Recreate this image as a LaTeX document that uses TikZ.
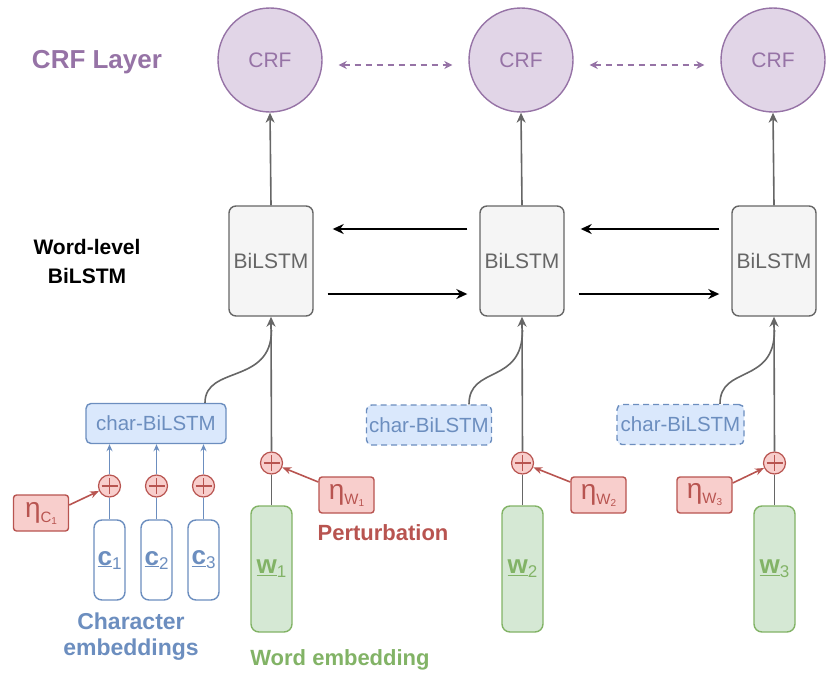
\documentclass[tikz,border=0pt]{standalone}
\usepackage{fontspec}
\setmainfont{Liberation Sans}
\usetikzlibrary{arrows.meta}
\definecolor{pfill}{HTML}{E1D5E7}\definecolor{pdraw}{HTML}{9673A6}
\definecolor{gfill}{HTML}{F5F5F5}\definecolor{gdraw}{HTML}{666666}
\definecolor{bfill}{HTML}{DAE8FC}\definecolor{bdraw}{HTML}{6C8EBF}
\definecolor{rfill}{HTML}{F8CECC}\definecolor{rdraw}{HTML}{B85450}
\definecolor{nfill}{HTML}{D5E8D4}\definecolor{ndraw}{HTML}{82B366}
\newcommand{\fsz}[1]{\fontsize{#1}{#1}\selectfont}
\tikzset{
  crf/.style={circle,minimum size=104pt,inner sep=0pt,fill=pfill,draw=pdraw,line width=1.4pt,text=pdraw,font=\fsz{21}},
  bil/.style={rectangle,rounded corners=7pt,minimum width=84pt,minimum height=110pt,fill=gfill,draw=gdraw,line width=1.4pt,text=gdraw,font=\fsz{21}},
  chr/.style={rectangle,rounded corners=5pt,minimum height=40pt,inner sep=0pt,fill=bfill,draw=bdraw,line width=1.4pt,text=bdraw,font=\fsz{20.5}},
  chrd/.style={chr,dashed,dash pattern=on 6pt off 4pt},
  cbox/.style={rectangle,rounded corners=8pt,minimum width=31pt,minimum height=80pt,inner sep=0pt,draw=bdraw,fill=white,line width=1.4pt,text=bdraw},
  wbox/.style={rectangle,rounded corners=8pt,minimum width=41pt,minimum height=126pt,inner sep=0pt,draw=ndraw,fill=nfill,line width=1.4pt,text=ndraw},
  ebox/.style={rectangle,rounded corners=3pt,minimum width=55pt,minimum height=36pt,inner sep=0pt,draw=rdraw,fill=rfill,line width=1.4pt,text=rdraw},
  plus/.style={circle,minimum size=22pt,inner sep=0pt,draw=rdraw,fill=rfill,line width=1.2pt,
    path picture={\draw[rdraw,line width=1.2pt] (path picture bounding box.center) ++(-8,0) -- ++(16,0);
                  \draw[rdraw,line width=1.2pt] (path picture bounding box.center) ++(0,-8) -- ++(0,16);}},
  gline/.style={draw=gdraw,line width=1.6pt},
  garr/.style={gline,-{Stealth[length=10pt,width=9pt]}},
  barr/.style={draw=bdraw,line width=1.6pt,-{Stealth[length=7pt,width=6pt]}},
  rarr/.style={draw=rdraw,line width=1.6pt,-{Stealth[length=9pt,width=7pt]}},
  karr/.style={draw=black,line width=1.9pt,-{Stealth[length=11pt,width=10pt]}},
  parr/.style={draw=pdraw,line width=1.5pt,dash pattern=on 6pt off 5pt,{Stealth[length=8pt,width=8pt]}-{Stealth[length=8pt,width=8pt]}},
  lbl/.style={font=\fsz{22}\bfseries,align=center}
}
\newcommand{\wlab}[1]{\fsz{26}\underline{\textbf{w}}\raisebox{-4pt}{\fsz{17}#1}}
\newcommand{\clab}[1]{\fsz{26}\underline{\textbf{c}}\raisebox{-4pt}{\fsz{17}#1}}
\newcommand{\elab}[2]{\fsz{28}η\raisebox{-5pt}{\fsz{15}#1\raisebox{-2pt}{\fsz{10}#2}}}
\begin{document}
\begin{tikzpicture}[x=1pt,y=-1pt]
\useasboundingbox (0,0) rectangle (827,672);
% CRF layer
\node[crf] (crf1) at (270,60) {CRF};
\node[crf] (crf2) at (521,60) {CRF};
\node[crf] (crf3) at (773,60) {CRF};
\node[lbl,font=\fsz{26}\bfseries,text=pdraw] (lcrf) at (97,62) {CRF Layer};
\draw[parr,shorten <=16pt,shorten >=16pt] ([yshift=-5pt]crf1.east) -- ([yshift=-5pt]crf2.west);
\draw[parr,shorten <=16pt,shorten >=16pt] ([yshift=-5pt]crf2.east) -- ([yshift=-5pt]crf3.west);
% BiLSTM
\node[bil] (b1) at (271,261) {BiLSTM};
\node[bil] (b2) at (522,261) {BiLSTM};
\node[bil] (b3) at (774,261) {BiLSTM};
\node[lbl,font=\fsz{21}\bfseries,text=black] (lwl) at (87,261) {Word-level\\[8pt]BiLSTM};
\draw[karr,shorten <=12pt,shorten >=19pt] ([yshift=32pt]b2.west) -- ([yshift=32pt]b1.east);
\draw[karr,shorten <=14pt,shorten >=12pt] ([yshift=-33pt]b1.east) -- ([yshift=-33pt]b2.west);
\draw[karr,shorten <=12pt,shorten >=16pt] ([yshift=32pt]b3.west) -- ([yshift=32pt]b2.east);
\draw[karr,shorten <=14pt,shorten >=12pt] ([yshift=-33pt]b2.east) -- ([yshift=-33pt]b3.west);
\draw[garr] (b1.north) -- (crf1.south);
\draw[garr] (b2.north) -- (crf2.south);
\draw[garr] (b3.north) -- (crf3.south);
% char-BiLSTM
\node[chr,minimum width=140pt] (ch1) at (156,423.5) {char-BiLSTM};
\node[chrd,minimum width=125pt] (ch2) at (429,425) {char-BiLSTM};
\node[chrd,minimum width=127pt] (ch3) at (680.5,424.5) {char-BiLSTM};
% word embeddings and perturbations
\node[wbox] (w1) at (271.5,569) {\wlab{1}};
\node[wbox] (w2) at (522.5,569) {\wlab{2}};
\node[wbox] (w3) at (774.5,569) {\wlab{3}};
\node[plus] (pw1) at (271.5,463) {};
\node[plus] (pw2) at (522.5,463) {};
\node[plus] (pw3) at (774.5,463) {};
\node[ebox] (ew1) at (346.5,495) {\elab{W}{1}};
\node[ebox] (ew2) at (598.5,495) {\elab{W}{2}};
\node[ebox] (ew3) at (704.5,495) {\elab{W}{3}};
\draw[gline] (w1.north) -- (pw1.south);
\draw[gline] (w2.north) -- (pw2.south);
\draw[gline] (w3.north) -- (pw3.south);
\draw[garr] (pw1.north) -- (b1.south);
\draw[garr] (pw2.north) -- (b2.south);
\draw[garr] (pw3.north) -- (b3.south);
\coordinate (j1) at (271.5,330);
\coordinate (j2) at (522.5,330);
\coordinate (j3) at (774.5,330);
\draw[gline] (ch1.north -| 205,0) .. controls (205,365) and (271.5,385) .. (j1);
\draw[gline] (ch2.north -| 469,0) .. controls (469,365) and (522.5,385) .. (j2);
\draw[gline] (ch3.north -| 720,0) .. controls (720,365) and (774.5,385) .. (j3);
\draw[rarr] ([yshift=13pt]ew1.west) -- (pw1);
\draw[rarr] ([yshift=13pt]ew2.west) -- (pw2);
\draw[rarr] ([yshift=12pt]ew3.east) -- (pw3);
% character embeddings
\node[cbox] (c1) at (109.5,560) {\clab{1}};
\node[cbox] (c2) at (156.5,560) {\clab{2}};
\node[cbox] (c3) at (203.5,560) {\clab{3}};
\node[plus] (pc1) at (109.5,486) {};
\node[plus] (pc2) at (156.5,486) {};
\node[plus] (pc3) at (203.5,486) {};
\draw[draw=bdraw,line width=1.6pt] (c1.north) -- (pc1.south);
\draw[draw=bdraw,line width=1.6pt] (c2.north) -- (pc2.south);
\draw[draw=bdraw,line width=1.6pt] (c3.north) -- (pc3.south);
\draw[barr] (pc1.north) -- (pc1.north |- ch1.south);
\draw[barr] (pc2.north) -- (pc2.north |- ch1.south);
\draw[barr] (pc3.north) -- (pc3.north |- ch1.south);
\node[ebox] (ec1) at (41,513) {\elab{C}{1}};
\draw[rarr] ([yshift=8pt]ec1.east) -- (pc1);
% labels
\node[lbl,text=rdraw] (lpert) at (383,533) {Perturbation};
\node[lbl,text=ndraw] (lword) at (340,660) {Word embedding};
\node[lbl,font=\fsz{23}\bfseries,text=bdraw] (lchar) at (131,637) {Character\\[3pt]embeddings};
\end{tikzpicture}
\end{document}
